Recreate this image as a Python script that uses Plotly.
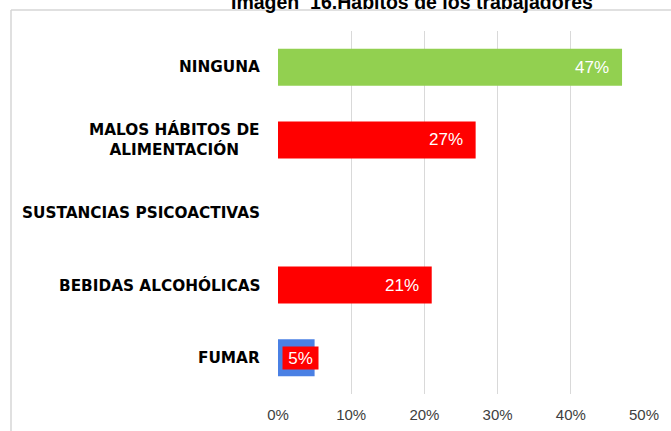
import plotly.graph_objects as go

categories = ["NINGUNA", "MALOS HÁBITOS DE<br>ALIMENTACIÓN", "SUSTANCIAS PSICOACTIVAS",
              "BEBIDAS ALCOHÓLICAS", "FUMAR"]
values = [47, 27, 0, 21, 5]
colors = ["#92D050", "#FF0000", "#FF0000", "#FF0000", "#4A80E4"]
labels = ["47%", "27%", "", "21%", "5%"]
tick_vals = [0, 10, 20, 30, 40, 50]
tick_text = ["0%", "10%", "20%", "30%", "40%", "50%"]
title = "Imagen  16.Hábitos de los trabajadores"

W, H = 671, 431
L, R, T, B = 278, 27, 31, 37
pw, ph = W - L - R, H - T - B

fig = go.Figure(go.Bar(
    x=values, y=categories, orientation="h",
    marker=dict(color=colors, line=dict(width=0)),
    width=0.51, hoverinfo="skip",
))

ann = []
for c, v, t in zip(categories, values, labels):
    ann.append(dict(x=0, xref="paper", y=c, yref="y", text="<b>" + c + "</b>",
                    showarrow=False, xanchor="right", xshift=-16, align="center",
                    font=dict(family="DejaVu Sans", size=15.3, color="#000000")))
    if not t:
        continue
    if c == "FUMAR":
        ann.append(dict(x=v, y=c, text=t, showarrow=False, xanchor="right", xshift=4,
                        bgcolor="#FF0000", borderpad=0, width=35, height=22,
                        font=dict(family="Liberation Sans, Arial", size=17, color="#FFFFFF")))
    else:
        ann.append(dict(x=v, y=c, text=t, showarrow=False, xanchor="right", xshift=-11,
                        font=dict(family="Liberation Sans, Arial", size=17, color="#FFFFFF")))

ann.append(dict(x=(412 - L) / pw, xref="paper", y=1 + (T - 2) / ph, yref="paper",
                text="<b>" + title + "</b>", showarrow=False, xanchor="center", yanchor="middle",
                font=dict(family="Liberation Sans, Arial", size=19.5, color="#000000")))

bx0 = (11 - L) / pw
by1 = 1 + (T - 10) / ph
fig.add_shape(type="line", xref="paper", yref="paper", x0=bx0, x1=bx0, y0=-0.2, y1=by1,
              line=dict(color="#D6D6D6", width=1.5))
fig.add_shape(type="line", xref="paper", yref="paper", x0=bx0, x1=1.2, y0=by1, y1=by1,
              line=dict(color="#D6D6D6", width=1.5))

fig.update_layout(
    width=W, height=H, margin=dict(l=L, r=R, t=T, b=B, autoexpand=False),
    paper_bgcolor="#FFFFFF", plot_bgcolor="#FFFFFF",
    showlegend=False, annotations=ann,
    xaxis=dict(range=[0, 50], tickvals=tick_vals, ticktext=tick_text, showgrid=True,
               gridcolor="#D9D9D9", gridwidth=1, zeroline=False, showline=False,
               ticks="", fixedrange=True, ticklabelstandoff=10, automargin=False,
               tickfont=dict(family="Liberation Sans, Arial", size=15, color="#404040")),
    yaxis=dict(categoryorder="array", categoryarray=categories, autorange="reversed",
               showticklabels=False, showgrid=False, zeroline=False, ticks="",
               fixedrange=True, automargin=False),
)
fig.write_html("out.html", config={"displayModeBar": False},
               post_script="document.body.style.margin='0';document.body.style.overflow='hidden';")
